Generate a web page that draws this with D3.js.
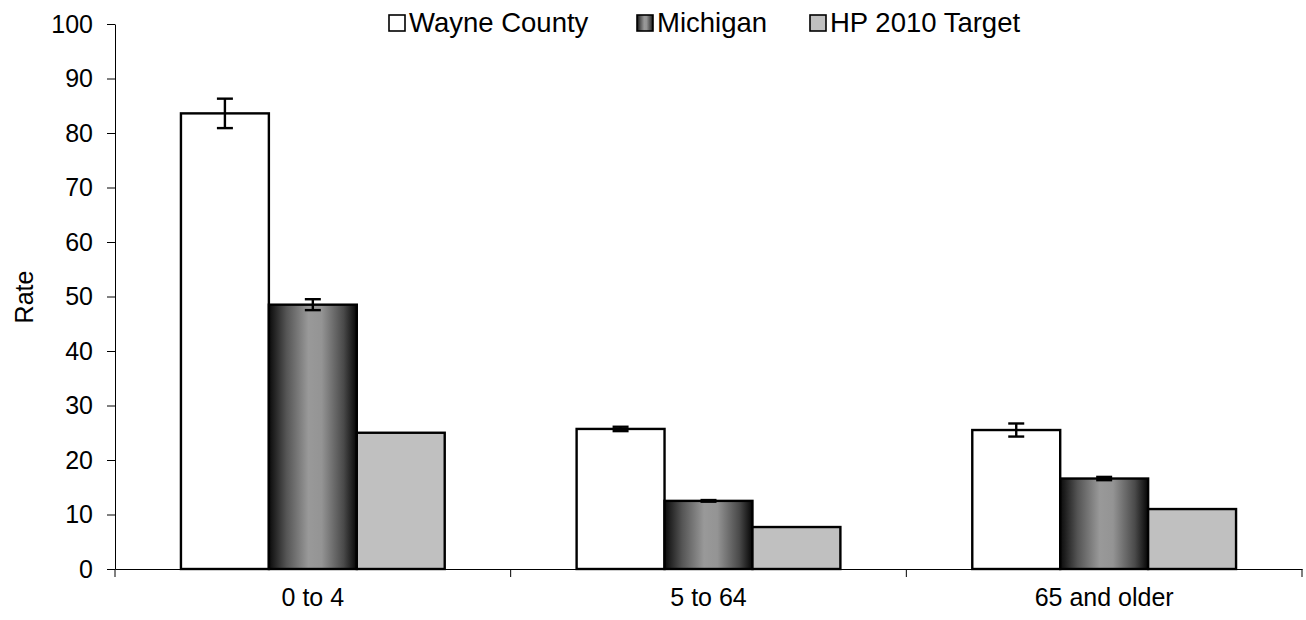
<!DOCTYPE html>
<html><head><meta charset="utf-8">
<script src="https://cdn.jsdelivr.net/npm/d3@7/dist/d3.min.js"></script>
<style>body{margin:0;background:#fff}svg{display:block}text{font-family:"Liberation Sans",Arial,sans-serif}</style>
</head><body>
<svg id="c" width="1306" height="620"></svg>
<script>
const categories = ["0 to 4", "5 to 64", "65 and older"];
const seriesNames = ["Wayne County", "Michigan", "HP 2010 Target"];
const wayne = [83.6, 25.7, 25.5];
const michigan = [48.5, 12.5, 16.6];
const target = [25, 7.7, 11];
const wayneErr = [2.7, 0.4, 1.2];
const michiganErr = [1.0, 0.15, 0.3];
const targetErr = [null, null, null];
const yTicks = [0,10,20,30,40,50,60,70,80,90,100];

const svg = d3.select("#c");
const L = 115, R = 1302, T = 24, B = 569;
const FONT = "Liberation Sans, Arial, sans-serif";
const x0 = d3.scaleBand().domain(categories).range([L, R]).paddingInner(0).paddingOuter(0);
const y = d3.scaleLinear().domain([0, 100]).range([B, T]);
const x1 = d3.scaleBand().domain(seriesNames).range([0, x0.bandwidth()]).paddingInner(0).paddingOuter(0.75);

const defs = svg.append("defs");
const g = defs.append("linearGradient").attr("id","mich").attr("x1","0").attr("x2","1").attr("y1","0").attr("y2","0");
[[0,"#0a0a0a"],[0.2,"#555"],[0.45,"#999"],[0.6,"#949494"],[0.85,"#4a4a4a"],[1,"#050505"]].forEach(s=>g.append("stop").attr("offset",s[0]).attr("stop-color",s[1]));
const fills = ["#ffffff","url(#mich)","#c0c0c0"];

const data = [wayne, michigan, target];
const errs = [wayneErr, michiganErr, targetErr];

// axes
const yAxis = d3.axisLeft(y).tickValues(yTicks).tickSize(8).tickSizeOuter(0).tickPadding(14);
const ya = svg.append("g").attr("transform",`translate(${L},0)`).call(yAxis);
ya.attr("font-size",25).attr("font-family",FONT);
ya.select(".domain").attr("stroke","#000").attr("stroke-width",1);
ya.selectAll(".tick line").attr("stroke","#000");
ya.selectAll("text").attr("fill","#000");

const xa = svg.append("g").attr("transform",`translate(0,${B})`).call(d3.axisBottom(x0).tickSize(0).tickPadding(19));
xa.attr("font-size",25).attr("font-family",FONT);
xa.select(".domain").attr("stroke","#000").attr("stroke-width",1);
xa.selectAll("text").attr("fill","#000");
const bounds = categories.map(c=>x0(c)).concat([x0(categories[categories.length-1])+x0.bandwidth()]);
svg.append("g").selectAll("line").data(bounds).join("line")
  .attr("x1",d=>d).attr("x2",d=>d).attr("y1",B).attr("y2",B+8).attr("stroke","#000");

// bars
seriesNames.forEach((s,si)=>{
  svg.append("g").selectAll("rect").data(categories).join("rect")
    .attr("x",c=>x0(c)+x1(s)).attr("width",x1.bandwidth())
    .attr("y",(c,i)=>y(data[si][i])).attr("height",(c,i)=>y(0)-y(data[si][i]))
    .attr("fill",fills[si]).attr("stroke","#000").attr("stroke-width",2.4);
});
// error bars
seriesNames.forEach((s,si)=>{
  categories.forEach((c,i)=>{
    const e = errs[si][i]; if (e==null) return;
    const cx = x0(c)+x1(s)+x1.bandwidth()/2, v = data[si][i];
    const eg = svg.append("g").attr("stroke","#000").attr("stroke-width",2.4);
    eg.append("line").attr("x1",cx).attr("x2",cx).attr("y1",y(v+e)).attr("y2",y(v-e));
    [v+e, v-e].forEach(t=>eg.append("line").attr("x1",cx-8).attr("x2",cx+8).attr("y1",y(t)).attr("y2",y(t)));
  });
});

// y label
svg.append("text").attr("transform","translate(33,297) rotate(-90)").attr("text-anchor","middle")
  .attr("font-size",25).attr("font-family",FONT).text("Rate");

// legend
const legX = [389, 637, 810];
seriesNames.forEach((s,si)=>{
  svg.append("rect").attr("x",legX[si]).attr("y",15).attr("width",16).attr("height",16)
    .attr("fill",fills[si]).attr("stroke","#000").attr("stroke-width",1.6);
  svg.append("text").attr("x",legX[si]+20).attr("y",32).attr("font-size",27.5).attr("font-family",FONT).text(s);
});
</script>
</body></html>
